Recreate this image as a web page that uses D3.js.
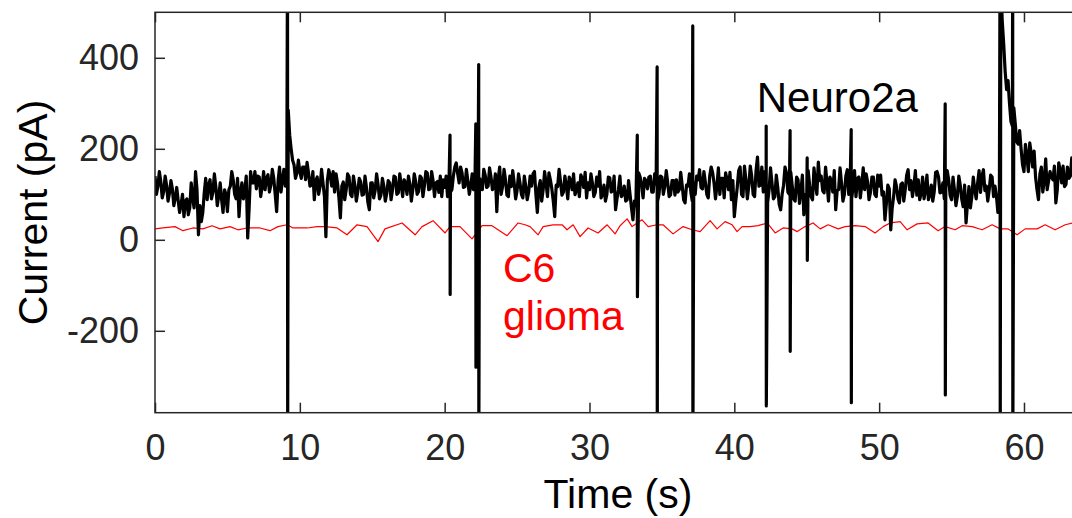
<!DOCTYPE html>
<html>
<head>
<meta charset="utf-8">
<script src="https://cdn.jsdelivr.net/npm/d3@7"></script>
<style>
  body { margin: 0; background: #fff; }
  text { font-family: "Liberation Sans", Arial, sans-serif; }
</style>
</head>
<body>
<svg id="chart" width="1072" height="518"></svg>
<script>
// Neuro2a trace (pA): samples at 0.0, 0.2, 0.4 ... s, one row per 2 s
const sampleStep = 0.2;
const neuroEven = [
  140, 118, 128, 106, 120, 103, 112, 92, 86, 78,
  51, 90, 70, 92, 150, 11, 40, 103, 88, 132,
  105, 117, 96, 88, 110, 62, 118, 132, 90, 51,
  125, 108, 4, 150, 125, 112, 138, 118, 110, 143,
  120, 135, 62, 160, 132, 118, 285, 200, 165, 147,
  150, 160, 132, 147, 120, 88, 138, 118, 125, 7,
  154, 118, 105, 125, 48, 127, 110, 138, 95, 120,
  105, 128, 100, 115, 66, 125, 108, 122, 98, 118,
  102, 125, 110, 138, 103, 120, 132, 100, 122, 110,
  128, 106, 136, 118, 147, 112, 130, 125, 104, 95,
  115, 95, 105, 140, 169, 125, 147, 117, 130, 117,
  110, 120, 135, 110, 142, 118, 138, 115, 62, 160,
  117, 132, 95, 117, 125, 108, 125, 92, 118, 105,
  118, 150, 60, 130, 110, 125, 147, 112, 51, 117,
  128, 105, 120, 138, 110, 99, 125, 143, 115, 92,
  110, 125, 104, 118, 92, 120, 100, 136, 108, 66,
  110, 95, 118, 88, 100, 44, 75, 147, 120, 135,
  112, 140, 105, 122, 100, 138, 118, 126, 99, 130,
  132, 110, 120, 81, 118, 104, 125, 140, 154, 112,
  127, 92, 160, 125, 118, 100, 135, 147, 110, 88,
  51, 115, 160, 95, 132, 118, 140, 95, 182, 120,
  105, 130, 110, 125, 95, 115, 66, 120, 147, 100,
  118, 85, 132, 108, 55, 95, 120, 88, 125, 171,
  140, 103, 125, 138, 105, 66, 110, 125, 100, 154,
  128, 115, 95, 138, 120, 110, 128, 104, 138, 95,
  118, 98, 44, 120, 22, 95, 117, 81, 125, 110,
  154, 130, 117, 98, 88, 138, 110, 88, 120, 105,
  150, 103, 125, 115, 132, 88, 110, 95, 120, 73,
  37, 117, 95, 110, 125, 104, 154, 118, 110, 138,
  118, 60, 560, 430, 330, 300, 250, 255, 210, 200,
  150, 185, 213, 160, 138, 88, 160, 130, 110, 150,
  132, 81, 169, 125, 117, 160, 140, 155, 145, 158
];
// samples in between, at 0.1, 0.3, 0.5 ... s
const neuroOdd = [
  100, 150, 92, 140, 85, 130, 75, 115, 60, 100,
  85, 55, 125, 70, 110, 75, 60, 135, 120, 90,
  145, 75, 125, 60, 100, 110, 150, 100, 135, 105,
  90, 140, 70, 125, 150, 140, 95, 150, 135, 105,
  155, 100, 130, 105, 155, 125, 230, 175, 135, 175,
  135, 160, 170, 118, 150, 130, 100, 155, 95, 130,
  140, 150, 145, 92, 118, 88, 145, 100, 140, 85,
  135, 98, 140, 82, 125, 92, 145, 90, 135, 85,
  130, 88, 140, 100, 145, 95, 125, 140, 85, 145,
  100, 140, 95, 150, 110, 150, 95, 128, 140, 132,
  140, 128, 110, 160, 145, 160, 115, 155, 100, 145,
  145, 95, 130, 155, 115, 158, 110, 145, 135, 100,
  155, 98, 140, 152, 90, 145, 100, 140, 88, 140,
  145, 100, 115, 85, 150, 95, 132, 85, 120, 155,
  98, 140, 90, 130, 145, 110, 95, 135, 148, 125,
  145, 95, 138, 150, 100, 85, 138, 105, 140, 90,
  140, 100, 85, 130, 70, 85, 100, 138, 92, 130,
  138, 105, 145, 85, 140, 100, 152, 95, 130, 98,
  105, 148, 88, 120, 145, 85, 100, 132, 115, 150,
  100, 140, 148, 90, 158, 135, 92, 132, 148, 130,
  85, 152, 100, 162, 90, 162, 100, 152, 118, 160,
  150, 82, 158, 90, 142, 78, 100, 160, 105, 148,
  90, 138, 80, 142, 100, 152, 95, 158, 100, 130,
  108, 160, 85, 130, 152, 108, 158, 85, 140, 100,
  90, 152, 135, 92, 158, 145, 88, 138, 100, 142,
  142, 105, 80, 112, 70, 132, 90, 122, 85, 142,
  110, 95, 152, 132, 102, 90, 142, 100, 85, 148,
  138, 105, 90, 152, 98, 138, 75, 140, 90, 120,
  80, 70, 138, 90, 152, 140, 108, 85, 142, 95,
  95, 90, 480, 370, 350, 260, 290, 215, 240, 165,
  210, 150, 190, 195, 110, 145, 105, 178, 130, 138,
  162, 110, 152, 162, 122, 135, 180, 120, 175, 130
];

// fast events (time s, upper tip pA, lower tip pA)
const spikeTimes = [9.15, 20.37, 22.15, 22.35, 33.3, 34.67, 37.13, 42.2, 43.85, 45.03, 48.07, 54.56, 58.35, 59.22];
const spikeHigh  = [650, 230, 255, 385, 230, 380, 470, 250, 240, 180, 242, 299, 650, 650];
const spikeLow   = [-450, -120, -280, -450, -125, -450, -450, -365, -245, -45, -358, -341, -450, -450];

// C6 glioma trace (time s, pA)
const gliomaTimes = [0, 0.55, 1.38, 1.93, 2.62, 3.31, 3.94, 4.49, 5.18, 5.73, 6.35, 7.25, 7.94, 8.49, 9.12, 9.53,
  10.5, 11.19, 11.74, 12.57, 13.26, 13.95, 14.64, 15.4, 15.88, 17.06, 17.96, 18.44, 19.2, 20.03, 20.37,
  21.06, 21.89, 22.58, 23.27, 24.31, 25.07, 25.55, 25.9, 26.45, 26.8, 27.49, 28.11, 28.45, 28.87, 29.35,
  29.9, 30.59, 31.22, 31.77, 32.11, 32.6, 32.94, 33.63, 34.05, 34.67, 35.08, 35.77, 36.46, 37.09, 37.64,
  38.33, 38.81, 39.36, 39.85, 40.19, 40.54, 41.09, 41.64, 42.27, 42.82, 43.37, 43.99, 44.34, 44.89,
  45.44, 45.93, 46.48, 47.17, 47.65, 48.34, 49.03, 49.72, 50.28, 50.76, 51.45, 51.93, 52.62, 53.38,
  54.07, 54.56, 55.25, 55.73, 56.42, 57.11, 57.8, 58.36, 58.91, 59.53, 60.08, 60.91, 61.46, 62.15,
  62.85, 63.33, 64];
const gliomaValues = [24, 26, 29, 20, 26, 24, 31, 24, 29, 22, 26, 26, 20, 29, 33, 26,
  26, 29, 29, 26, 11, 33, 29, -4, 24, 37, 11, 29, 42, 15, 29,
  29, 2, 31, 31, 9, 37, 33, 29, 11, 29, 33, 33, 22, 33, 7,
  26, 15, 33, 13, 31, 46, 29, 44, 29, 33, 33, 13, 29, 22, 18,
  42, 24, 40, 33, 18, 29, 29, 31, 37, 15, 26, 24, 18, 29,
  37, 24, 33, 24, 29, 31, 29, 15, 29, 37, 40, 22, 35, 37,
  20, 29, 22, 31, 29, 22, 33, 24, 24, 11, 24, 24, 33, 22,
  33, 37, 30];

const xTicks = [0, 10, 20, 30, 40, 50, 60];
const yTicks = [-200, 0, 200, 400];
const labels = [
  { text: "Neuro2a", t: 41.55, v: 281, color: "#000", size: 42 },
  { text: "C6", t: 24.03, v: -92, color: "#ff0000", size: 41 },
  { text: "glioma", t: 24.03, v: -198, color: "#ff0000", size: 41 }
];

const svg = d3.select("#chart");
const axisColor = "#262626";
const plotLeft = 155, plotTop = 12.3, plotBottom = 412.7;

const x = d3.scaleLinear().domain([0, 64]).range([plotLeft, plotLeft + 64 * 14.483]);
const y = d3.scaleLinear().domain([-380, 500]).range([plotBottom, plotTop]);

svg.append("defs").append("clipPath").attr("id", "plotclip")
  .append("rect")
  .attr("x", x(0)).attr("y", y(500))
  .attr("width", x(64) - x(0)).attr("height", y(-380) - y(500));

// merge the two sample sets and the spike tips into one trace
let neuroPts = neuroEven.map((v, i) => [i * sampleStep, v])
  .concat(neuroOdd.map((v, i) => [i * sampleStep + sampleStep / 2, v]));
spikeTimes.forEach((t, i) => {
  neuroPts.push([t, spikeHigh[i]]);
  neuroPts.push([t + 0.01, spikeLow[i]]);
});
neuroPts.sort((a, b) => a[0] - b[0]);

const line = d3.line().x(d => x(d[0])).y(d => y(d[1]));
const plot = svg.append("g").attr("clip-path", "url(#plotclip)");

plot.append("path")
  .datum(gliomaTimes.map((t, i) => [t, gliomaValues[i]]))
  .attr("d", line)
  .attr("fill", "none")
  .attr("stroke", "#ff0000")
  .attr("stroke-width", 1.2)
  .attr("stroke-linejoin", "round");

plot.append("path")
  .datum(neuroPts)
  .attr("d", line)
  .attr("fill", "none")
  .attr("stroke", "#000")
  .attr("stroke-width", 3.2)
  .attr("stroke-linejoin", "round");

// axes, ticks pointing inward
const yAxis = svg.append("g")
  .attr("transform", `translate(${plotLeft},0)`)
  .call(d3.axisLeft(y).tickValues(yTicks).tickSize(-10).tickSizeOuter(0).tickPadding(16)
    .tickFormat(d => String(d)));
const xAxis = svg.append("g")
  .attr("transform", `translate(0,${plotBottom})`)
  .call(d3.axisBottom(x).tickValues(xTicks).tickSize(-10).tickSizeOuter(0).tickPadding(22)
    .tickFormat(d => String(d)));
const xTop = svg.append("g")
  .attr("transform", `translate(0,${plotTop})`)
  .call(d3.axisTop(x).tickValues(xTicks).tickSize(-10).tickSizeOuter(0).tickFormat(""));

[yAxis, xAxis, xTop].forEach(g => {
  g.select(".domain").remove();
  g.selectAll("line").attr("stroke", axisColor).attr("stroke-width", 1.5);
  g.selectAll("text").attr("fill", axisColor).style("font-size", "36px");
});

svg.append("rect")
  .attr("x", x(0)).attr("y", plotTop)
  .attr("width", x(64) - x(0)).attr("height", plotBottom - plotTop)
  .attr("fill", "none").attr("stroke", axisColor).attr("stroke-width", 1.5);

svg.append("text")
  .attr("x", 618).attr("y", 508)
  .attr("text-anchor", "middle")
  .attr("fill", "#000")
  .style("font-size", "41px")
  .text("Time (s)");

svg.append("text")
  .attr("transform", `translate(47,${(plotTop + plotBottom) / 2}) rotate(-90)`)
  .attr("text-anchor", "middle")
  .attr("fill", "#000")
  .style("font-size", "41px")
  .text("Current (pA)");

svg.selectAll(".note").data(labels).enter().append("text")
  .attr("class", "note")
  .attr("x", d => x(d.t)).attr("y", d => y(d.v))
  .attr("fill", d => d.color)
  .style("font-size", d => d.size + "px")
  .text(d => d.text);
</script>
</body>
</html>
